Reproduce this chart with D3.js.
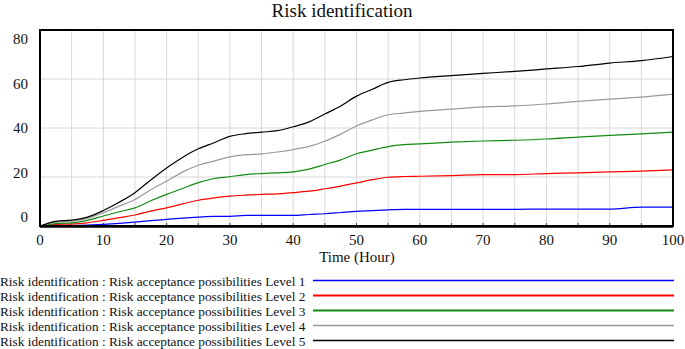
<!DOCTYPE html>
<html>
<head>
<meta charset="utf-8">
<script src="https://cdn.jsdelivr.net/npm/d3@7"></script>
<style>
  body { margin: 0; background: #fff; }
  svg { display: block; }
  text { font-family: 'Liberation Serif', 'Times New Roman', serif; fill: #111; }
</style>
</head>
<body>
<svg id="chart" width="685" height="349"></svg>
<script>
// time in hours
const hours = [0, 2.5, 5, 7.5, 10, 12.5, 15, 17.5, 20, 22.5, 25, 27.5, 30, 32.5, 35, 37.5, 40,
  42.5, 45, 47.5, 50, 52.5, 55, 57.5, 60, 65, 70, 75, 80, 85, 90, 95, 100]

const level1 = [0, 0.05, 0.2, 0.4, 0.7, 1.1, 1.6, 2.2, 2.7, 3.2, 3.6, 3.9, 3.9, 4.3, 4.3, 4.3, 4.3,
  4.7, 5.0, 5.5, 6.0, 6.3, 6.6, 6.8, 6.8, 6.8, 6.8, 6.8, 6.9, 6.9, 6.9, 7.7, 7.7]
const level2 = [0, 0.7, 0.8, 1.3, 2.3, 3.4, 4.5, 6.1, 7.4, 9.0, 10.5, 11.5, 12.2, 12.6, 12.9, 13.1, 13.6,
  14.2, 15.2, 16.3, 17.6, 18.9, 19.9, 20.2, 20.3, 20.6, 21.0, 21.0, 21.4, 21.7, 22.1, 22.4, 22.9]
const level3 = [0, 1.0, 1.3, 2.3, 4.1, 5.8, 7.4, 10.3, 12.9, 15.3, 17.7, 19.4, 20.1, 21.0, 21.4, 21.7, 22.1,
  23.2, 25.1, 27.0, 29.5, 31.0, 32.4, 33.2, 33.5, 34.2, 34.7, 35.0, 35.5, 36.3, 37.0, 37.6, 38.3]
const level4 = [0, 1.5, 2.0, 3.1, 5.4, 8.1, 10.8, 14.8, 18.3, 22.0, 24.8, 26.5, 28.2, 29.1, 29.4, 30.2, 31.2,
  32.5, 34.6, 37.5, 40.8, 43.3, 45.4, 46.1, 46.8, 47.7, 48.6, 49.0, 49.8, 50.9, 51.8, 52.6, 53.8]
const level5 = [0, 1.9, 2.4, 3.6, 6.3, 9.7, 13.6, 18.8, 23.7, 28.0, 31.5, 34.0, 36.6, 37.7, 38.3, 38.9, 40.5,
  42.5, 45.7, 49.0, 53.0, 55.8, 58.6, 59.7, 60.4, 61.4, 62.3, 63.1, 64.1, 65.1, 66.5, 67.5, 69.2]

const seriesNames = [
  'Risk identification : Risk acceptance possibilities Level 1',
  'Risk identification : Risk acceptance possibilities Level 2',
  'Risk identification : Risk acceptance possibilities Level 3',
  'Risk identification : Risk acceptance possibilities Level 4',
  'Risk identification : Risk acceptance possibilities Level 5',
]
const seriesColors = ['#0000ff', '#ff0000', '#118c11', '#999999', '#000000']
const yTicks = [0, 20, 40, 60, 80]
const xTicks = [0, 10, 20, 30, 40, 50, 60, 70, 80, 90, 100]

const allSeries = [level1, level2, level3, level4, level5]

const svg = d3.select('#chart')
const plot = {left: 40, right: 673, top: 30, bottom: 226}

const x = d3.scaleLinear().domain([0, 100]).range([plot.left, plot.right])
const y = d3.scaleLinear().domain([0, 80]).range([plot.bottom, plot.top])
// Vensim spreads its value labels a little inside the axis
const yLabel = d3.scaleLinear().domain([0, 80]).range([217, 39])

// grid
svg.append('g')
  .selectAll('line')
  .data(d3.range(5, 100, 5))
  .join('line')
  .attr('x1', (d) => x(d)).attr('x2', (d) => x(d))
  .attr('y1', plot.top).attr('y2', plot.bottom)
  .attr('stroke', '#d8d8d8')

svg.append('g')
  .selectAll('line')
  .data([20, 40, 60])
  .join('line')
  .attr('x1', plot.left).attr('x2', plot.right)
  .attr('y1', (d) => y(d)).attr('y2', (d) => y(d))
  .attr('stroke', '#d8d8d8')

// small inner ticks on the time axis
svg.append('g')
  .selectAll('line')
  .data(d3.range(5, 100, 5))
  .join('line')
  .attr('x1', (d) => x(d)).attr('x2', (d) => x(d))
  .attr('y1', plot.bottom - 3).attr('y2', plot.bottom)
  .attr('stroke', '#444')

// series
const line = d3.line()
  .x((d, i) => x(hours[i]))
  .y((d) => y(d))
  .curve(d3.curveMonotoneX)

svg.append('g')
  .selectAll('path')
  .data(allSeries)
  .join('path')
  .attr('d', (d) => line(d))
  .attr('fill', 'none')
  .attr('stroke', (d, i) => seriesColors[i])
  .attr('stroke-width', 1.2)

// frame
svg.append('rect')
  .attr('x', plot.left).attr('y', plot.top)
  .attr('width', plot.right - plot.left).attr('height', plot.bottom - plot.top)
  .attr('fill', 'none')
  .attr('stroke', '#000')
  .attr('stroke-width', 2)
svg.append('line')
  .attr('x1', plot.left).attr('x2', plot.right)
  .attr('y1', plot.bottom + 0.5).attr('y2', plot.bottom + 0.5)
  .attr('stroke', '#000')
  .attr('stroke-width', 2.5)

// axis labels
svg.append('g')
  .selectAll('text')
  .data(yTicks)
  .join('text')
  .attr('x', 28)
  .attr('y', (d) => yLabel(d))
  .attr('dy', '0.35em')
  .attr('text-anchor', 'end')
  .attr('font-size', 15)
  .text((d) => d)

svg.append('g')
  .selectAll('text')
  .data(xTicks)
  .join('text')
  .attr('x', (d) => x(d))
  .attr('y', 245)
  .attr('text-anchor', 'middle')
  .attr('font-size', 15)
  .text((d) => d)

svg.append('text')
  .attr('x', 357).attr('y', 262)
  .attr('text-anchor', 'middle')
  .attr('font-size', 15)
  .text('Time (Hour)')

svg.append('text')
  .attr('x', 342).attr('y', 17)
  .attr('text-anchor', 'middle')
  .attr('font-size', 19)
  .text('Risk identification')

// legend
const legend = svg.append('g')
  .selectAll('g')
  .data(seriesNames)
  .join('g')
  .attr('transform', (d, i) => `translate(0, ${286 + i * 15})`)

legend.append('text')
  .attr('x', 0)
  .attr('font-size', 13.3)
  .text((d) => d)

legend.append('line')
  .attr('x1', 313).attr('x2', 674)
  .attr('y1', -5.5).attr('y2', -5.5)
  .attr('stroke', (d, i) => seriesColors[i])
  .attr('stroke-width', (d, i) => (i === 1 || i === 2 ? 2 : 1.5))
</script>
</body>
</html>
